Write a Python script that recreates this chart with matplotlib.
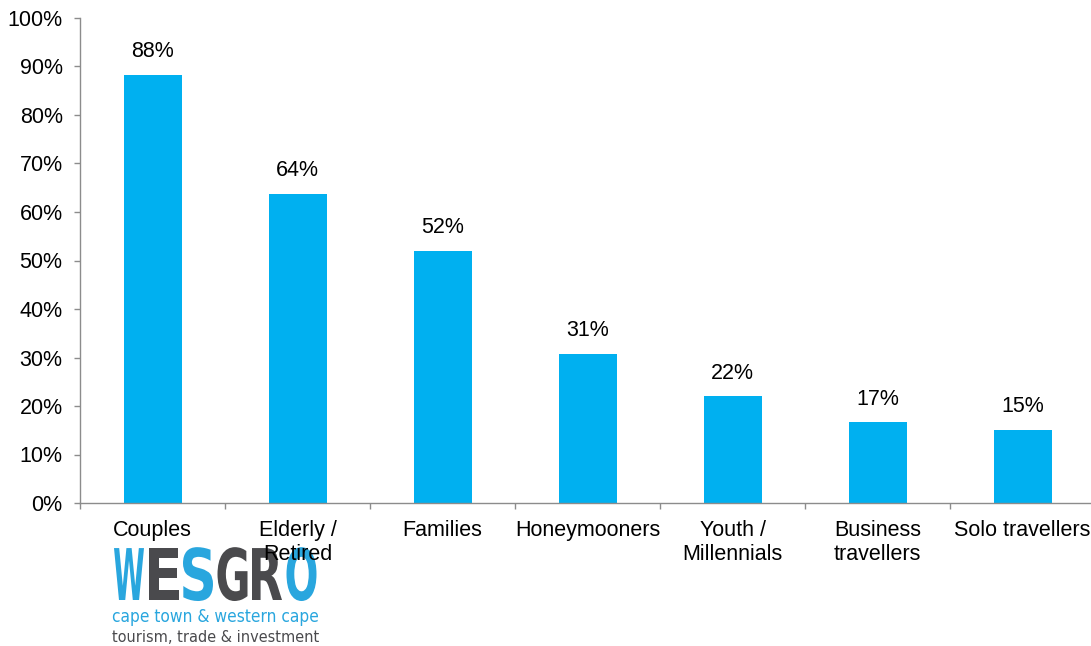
import matplotlib.pyplot as plt
from matplotlib.textpath import TextPath
from matplotlib.patches import PathPatch
from matplotlib.font_manager import FontProperties
from matplotlib.transforms import Affine2D

categories = ["Couples", "Elderly /\nRetired", "Families", "Honeymooners",
              "Youth /\nMillennials", "Business\ntravellers", "Solo travellers"]
values = [88.3, 63.8, 52.0, 30.8, 22.0, 16.6, 15.1]
labels = ["88%", "64%", "52%", "31%", "22%", "17%", "15%"]
yticks = [0, 10, 20, 30, 40, 50, 60, 70, 80, 90, 100]

plt.rcParams['font.family'] = ['Liberation Sans', 'DejaVu Sans']
fs = 15.5

fig = plt.figure(figsize=(10.91, 6.46), dpi=100)
ax = fig.add_axes([80 / 1091, 1 - 503 / 646, 1015 / 1091, 485 / 646])

x = list(range(len(categories)))
ax.bar(x, values, width=0.4, color="#00B0F0")
for xi, v, lab in zip(x, values, labels):
    ax.annotate(lab, (xi, v), xytext=(0, 9), textcoords="offset points",
                ha="center", va="bottom", fontsize=fs)

ax.set_xlim(-0.5, len(categories) - 0.5)
ax.set_ylim(0, 100)
ax.set_yticks(yticks)
ax.set_yticklabels([f"{t}%" for t in yticks])
ax.set_xticks(x)
ax.set_xticklabels(categories, linespacing=1.2)
ax.set_xticks([i - 0.5 for i in range(len(categories) + 1)], minor=True)
ax.tick_params(axis="x", which="major", length=0, pad=12, labelsize=fs)
ax.tick_params(axis="x", which="minor", length=4.5, color="#8c8c8c", width=1)
ax.tick_params(axis="y", length=4.5, color="#8c8c8c", width=1, pad=8, labelsize=fs)

for s in ["top", "right"]:
    ax.spines[s].set_visible(False)
for s in ["left", "bottom"]:
    ax.spines[s].set_color("#8c8c8c")
    ax.spines[s].set_linewidth(1)

# logo: wesgro (drawn under the axes so "Retired" stays on top)
blue = "#29a6de"
gray = "#4a4a4d"
fp = FontProperties(family="DejaVu Sans", weight="bold")
letters = ["W", "E", "S", "G", "R", "O"]
cols = [blue, gray, blue, gray, gray, blue]
for i, (ch, c) in enumerate(zip(letters, cols)):
    tp = TextPath((0, 0), ch, size=1, prop=fp)
    ext = tp.get_extents()
    tr = Affine2D().translate(-ext.x0, 0).scale(30 / ext.width, 52 / 0.73).translate(114 + i * 34.5, 646 - 600)
    fig.patches.append(PathPatch(tr.transform_path(tp), facecolor=c, edgecolor="none",
                                 transform=None, figure=fig, zorder=-5))

fig.text(112 / 1091, 1 - 617 / 646, "cape town & western cape", color=blue,
         fontsize=12.4, family="DejaVu Sans", fontstretch="condensed", va="center", ha="left")
fig.text(112 / 1091, 1 - 637 / 646, "tourism, trade & investment", color=gray,
         fontsize=11.6, family="DejaVu Sans", fontstretch="condensed", va="center", ha="left")

fig.savefig("out.png", dpi=100)
